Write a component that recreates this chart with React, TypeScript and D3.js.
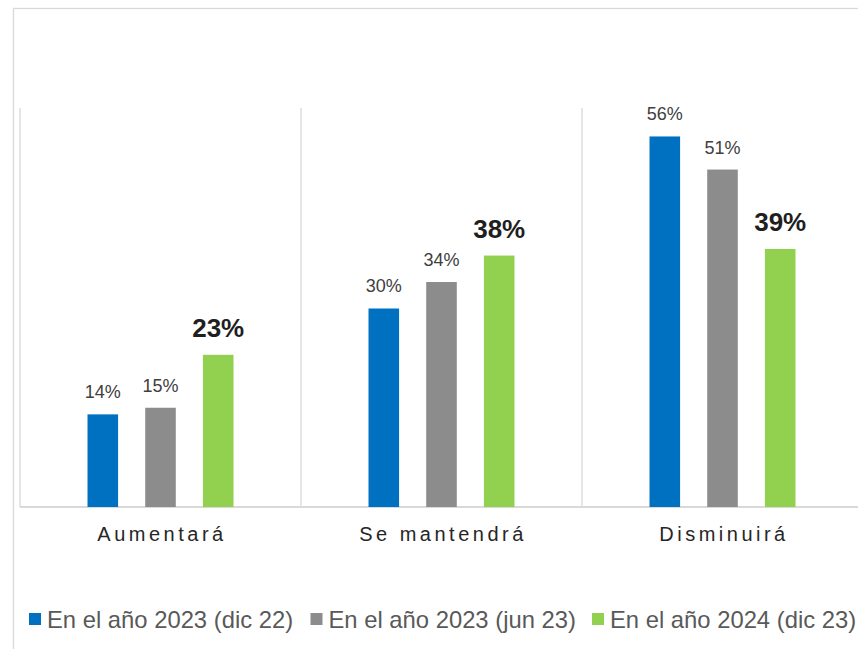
import * as d3 from 'd3';
import React, { useRef, useEffect } from 'react';

const categories = ['Aumentará', 'Se mantendrá', 'Disminuirá'];
const seriesNames = ['En el año 2023 (dic 22)', 'En el año 2023 (jun 23)', 'En el año 2024 (dic 23)'];
const dic22 = [14, 30, 56];
const jun23 = [15, 34, 51];
const dic23 = [23, 38, 39];
const colors = ['#0070c0', '#8c8c8c', '#92d050'];

function BarChart({ width, height }: { width: number; height: number }) {
    const ref = useRef<SVGSVGElement>(null);

    useEffect(() => {
        const svg = d3.select(ref.current);
        svg.selectAll('*').remove();

        const left = 20, right = 863, top = 108, bottom = 507;
        const font = 'Liberation Sans, Arial, sans-serif';
        const series = [dic22, jun23, dic23];

        // outer frame
        svg.append('rect')
            .attr('x', 13.5).attr('y', 8.5)
            .attr('width', width).attr('height', height)
            .attr('fill', 'none').attr('stroke', '#d9d9d9').attr('stroke-width', 1.3);

        const x0 = d3.scaleBand().domain(categories).range([left, right]).padding(0);
        const x1 = d3.scaleBand().domain(['0', '1', '2'])
            .range([0, x0.bandwidth()]).paddingInner(0.47).paddingOuter(1.17);
        const y = d3.scaleLinear().domain([0, 60.3]).range([bottom, top]);

        // vertical dividers between categories
        const divs = [left, ...categories.map(c => x0(c)! + x0.bandwidth())];
        svg.selectAll('line.div').data(divs).enter().append('line')
            .attr('class', 'div')
            .attr('x1', d => d).attr('x2', d => d)
            .attr('y1', top).attr('y2', bottom)
            .attr('stroke', '#d9d9d9').attr('stroke-width', 1.3);

        // baseline
        svg.append('line')
            .attr('x1', left).attr('x2', right)
            .attr('y1', bottom).attr('y2', bottom)
            .attr('stroke', '#d9d9d9').attr('stroke-width', 2);

        const rows = categories.flatMap((c, ci) =>
            series.map((s, si) => ({ c, si, v: s[ci] })));

        svg.selectAll('rect.bar').data(rows).enter().append('rect')
            .attr('class', 'bar')
            .attr('x', d => x0(d.c)! + x1(String(d.si))!)
            .attr('y', d => y(d.v))
            .attr('width', x1.bandwidth())
            .attr('height', d => bottom - y(d.v))
            .attr('fill', d => colors[d.si]);

        svg.selectAll('text.val').data(rows).enter().append('text')
            .attr('class', 'val')
            .attr('x', d => x0(d.c)! + x1(String(d.si))! + x1.bandwidth() / 2)
            .attr('y', d => y(d.v) - (d.si === 2 ? 17.5 : 16))
            .attr('text-anchor', 'middle')
            .style('font-family', font)
            .style('font-size', d => d.si === 2 ? '26px' : '18px')
            .style('font-weight', d => d.si === 2 ? 'bold' : 'normal')
            .attr('fill', d => d.si === 2 ? '#1f1f1f' : '#404040')
            .text(d => d.v + '%');

        svg.selectAll('text.cat').data(categories).enter().append('text')
            .attr('class', 'cat')
            .attr('x', d => x0(d)! + x0.bandwidth() / 2 + 1.5)
            .attr('y', 541)
            .attr('text-anchor', 'middle')
            .style('font-family', font)
            .style('font-size', '20px')
            .style('letter-spacing', '3.5px')
            .attr('fill', '#262626')
            .text(d => d);

        // legend
        const leg = svg.selectAll('g.leg').data(seriesNames).enter().append('g')
            .attr('class', 'leg')
            .attr('transform', (d, i) => `translate(${29 + i * 281.5},0)`);
        leg.append('rect')
            .attr('x', 0).attr('y', 613)
            .attr('width', 12).attr('height', 12)
            .attr('fill', (d, i) => colors[i]);
        leg.append('text')
            .attr('x', 18).attr('y', 627.5)
            .style('font-family', font)
            .style('font-size', '23.8px')
            .attr('fill', '#595959')
            .text(d => d);
    }, []);

    return (
        <svg ref={ref} width={width} height={height}
            style={{ position: 'absolute', left: 0, top: 0, background: '#fff' }}>
        </svg>
    );
}

export default function App() {
    return <BarChart width={858} height={649} />;
}
